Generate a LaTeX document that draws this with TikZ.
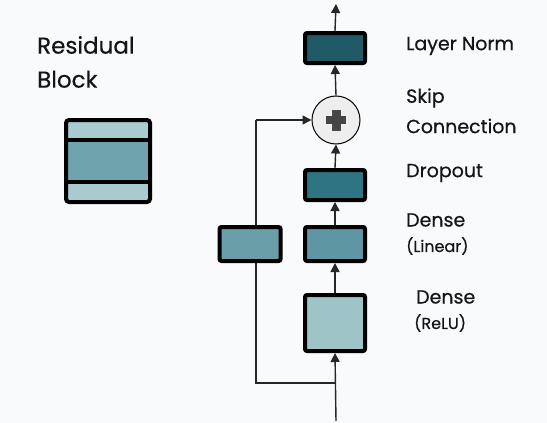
\documentclass[tikz,border=0pt]{standalone}
\usepackage{fontspec}
\setmainfont{Poppins}[FakeBold=0.5]
\usetikzlibrary{arrows.meta,calc}
\definecolor{bgC}{HTML}{F8FAFB}
\definecolor{lnC}{HTML}{1F5A66}
\definecolor{dropC}{HTML}{2F7482}
\definecolor{linC}{HTML}{5E97A3}
\definecolor{skC}{HTML}{6A9FA9}
\definecolor{reluC}{HTML}{9FC4C8}
\definecolor{stripC}{HTML}{A9CACE}
\definecolor{midC}{HTML}{6FA3AD}
\definecolor{txtC}{HTML}{151515}
\definecolor{plusC}{HTML}{454545}
\definecolor{circC}{HTML}{EEEEEE}
\tikzset{
  layerbox/.style={draw=black, line width=4pt, rounded corners=2pt, minimum width=60pt, inner sep=0pt},
  conn/.style={line width=1.4pt, draw=black!85},
  arr/.style={conn, -{Triangle[length=9pt,width=9pt]}},
  lbl/.style={anchor=west, inner sep=0pt, text=txtC, font=\fontsize{19}{22}\selectfont},
  sublbl/.style={anchor=west, inner sep=0pt, text=txtC, font=\fontsize{16}{18}\selectfont},
}
\begin{document}
\begin{tikzpicture}[x=1pt,y=-1pt]
\fill[bgC] (0,0) rectangle (547,423);
\useasboundingbox (0,0) rectangle (547,423);

% title
\node[anchor=west, inner sep=0pt, text=txtC, font=\fontsize{23}{34}\selectfont, align=left] (title) at (37,62) {Residual\\Block};

% icon
\fill[stripC, rounded corners=2pt] (66,120) rectangle (150,202);
\fill[midC] (66,140) rectangle (150,182);
\draw[line width=4pt] (66,140) -- (150,140);
\draw[line width=4pt] (66,182) -- (150,182);
\draw[line width=4pt, rounded corners=3pt] (66,120) rectangle (150,202);

% coordinates
\coordinate (in) at (336,421);
\coordinate (join) at (336,383);
\coordinate (cb) at (256,383);
\coordinate (ct) at (256,120);
\coordinate (out) at (336,4);

% main nodes
\node[layerbox, fill=lnC, minimum height=30pt] (ln) at (335,48) {};
\node[circle, draw=black, line width=1pt, fill=circC, minimum size=48pt, inner sep=0pt] (add) at (336,120) {};
\fill[plusC, draw=black!70, line width=0.5pt] ($(add.center)+(-4,-10)$) rectangle ($(add.center)+(4,10)$);
\fill[plusC] ($(add.center)+(-10,-4)$) rectangle ($(add.center)+(10,4)$);
\node[layerbox, fill=dropC, minimum height=30pt] (drop) at (335,185) {};
\node[layerbox, fill=linC, minimum height=34pt] (lin) at (335,244) {};
\node[layerbox, fill=reluC, minimum height=56pt] (relu) at (335,323) {};

% skip connection (drawn before its box so the box covers it)
\draw[conn] (join) -- (cb) -- (ct);
\draw[arr] (ct) -- (add.west);
\node[layerbox, fill=skC, minimum width=61pt, minimum height=34pt] (sk) at (250,244) {};

% main connectors
\draw[arr] (in) -- (relu.south);
\draw[arr] (relu.north) -- (lin.south);
\draw[arr] (lin.north) -- (drop.south);
\draw[arr] (drop.north) -- (add.south);
\draw[arr] (add.north) -- (ln.south);
\draw[arr] (ln.north) -- (out);

% labels
\node[lbl] (lLN) at (406,46) {Layer Norm};
\node[lbl] (lSkip) at (406,98) {Skip};
\node[lbl] (lConn) at (406,126) {Connection};
\node[lbl] (lDrop) at (406,173) {Dropout};
\node[lbl] (lDen1) at (406,220) {Dense};
\node[sublbl] (lLin) at (406,246) {(Linear)};
\node[lbl] (lDen2) at (416,297) {Dense};
\node[sublbl] (lRelu) at (414,323) {(ReLU)};
\end{tikzpicture}
\end{document}
